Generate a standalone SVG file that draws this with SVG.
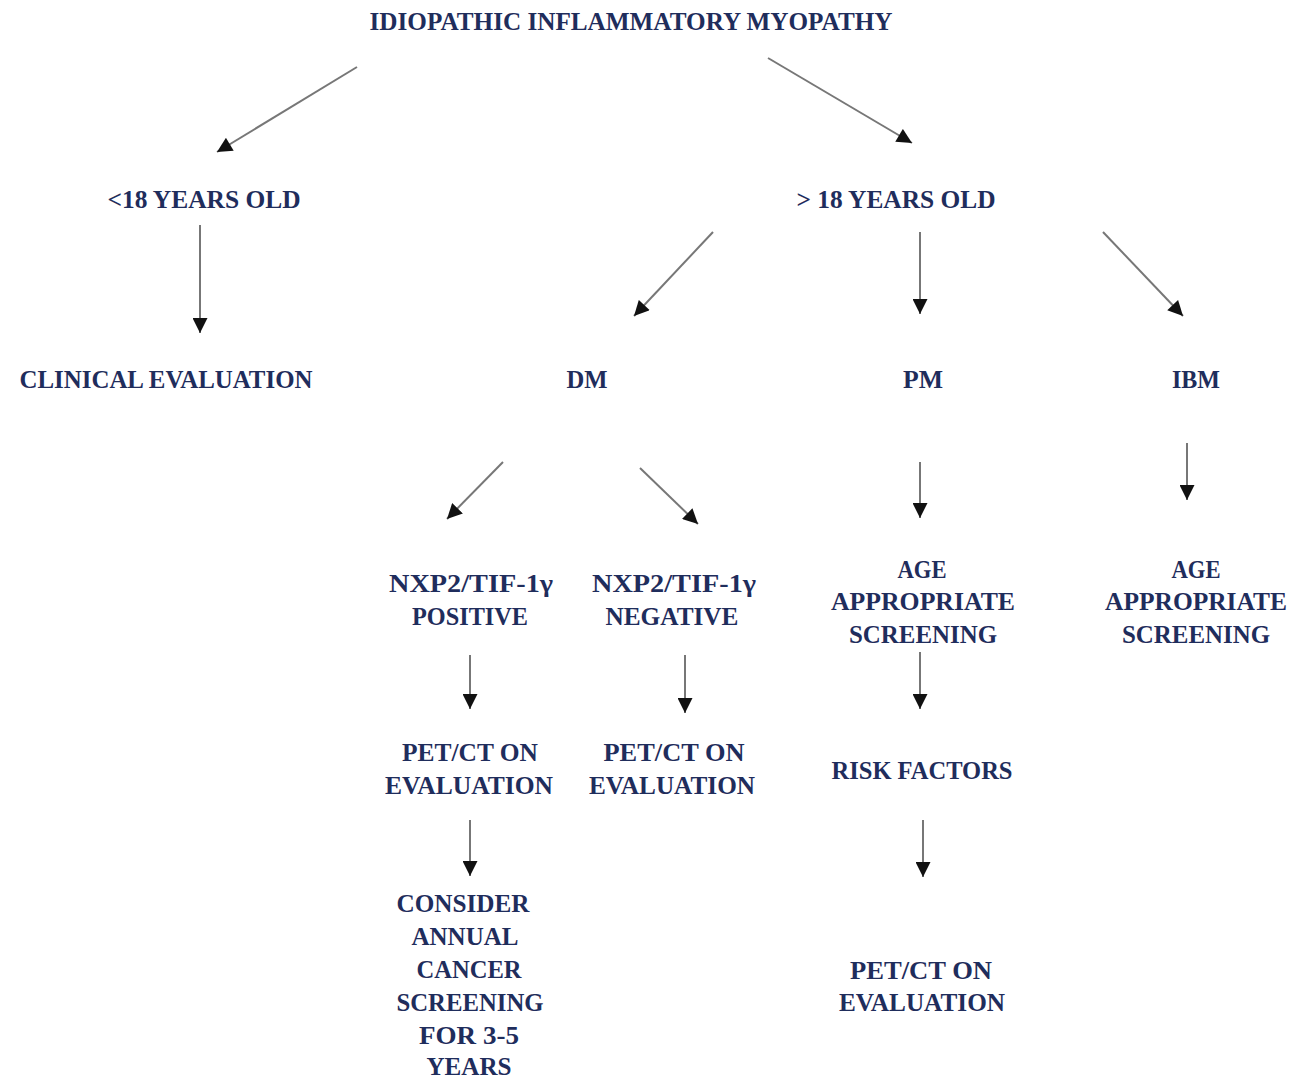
<svg xmlns="http://www.w3.org/2000/svg" width="1289" height="1079" viewBox="0 0 1289 1079">
<defs>
<marker id="ah" viewBox="0 0 10 10" markerUnits="userSpaceOnUse" markerWidth="16" markerHeight="15" refX="10" refY="5" orient="auto">
<path d="M0,0 L10,5 L0,10 z" fill="#111"/>
</marker>
<style>
text{font-family:"Liberation Serif","DejaVu Serif",serif;font-weight:bold;font-size:26px;fill:#1f2d5c;text-anchor:middle}
.c line{stroke:#777;stroke-width:2;marker-end:url(#ah)}
</style>
</defs>
<rect width="1289" height="1079" fill="#fff"/>
<g id="connectors" class="c">
<line x1="357" y1="67" x2="217" y2="152"/>
<line x1="768" y1="58" x2="912" y2="143"/>
<line x1="200" y1="225" x2="200" y2="333"/>
<line x1="713" y1="232" x2="634" y2="316"/>
<line x1="920" y1="232" x2="920" y2="314"/>
<line x1="1103" y1="232" x2="1183" y2="316"/>
<line x1="503" y1="462" x2="447" y2="519"/>
<line x1="640" y1="468" x2="698" y2="524"/>
<line x1="920" y1="462" x2="920" y2="518"/>
<line x1="1187" y1="443" x2="1187" y2="500"/>
<line x1="470" y1="655" x2="470" y2="709"/>
<line x1="685" y1="655" x2="685" y2="713"/>
<line x1="920" y1="652" x2="920" y2="709"/>
<line x1="470" y1="820" x2="470" y2="876"/>
<line x1="923" y1="820" x2="923" y2="877"/>
</g>
<g id="n-iim"><text x="631" y="30" textLength="523" lengthAdjust="spacingAndGlyphs">IDIOPATHIC INFLAMMATORY MYOPATHY</text></g>
<g id="n-lt18"><text x="204" y="208" textLength="193" lengthAdjust="spacingAndGlyphs">&lt;18 YEARS OLD</text></g>
<g id="n-gt18"><text x="896" y="208" textLength="199" lengthAdjust="spacingAndGlyphs">&gt; 18 YEARS OLD</text></g>
<g id="n-clinical"><text x="166" y="388" textLength="293" lengthAdjust="spacingAndGlyphs">CLINICAL EVALUATION</text></g>
<g id="n-dm"><text x="587" y="388" textLength="41" lengthAdjust="spacingAndGlyphs">DM</text></g>
<g id="n-pm"><text x="923" y="388" textLength="40" lengthAdjust="spacingAndGlyphs">PM</text></g>
<g id="n-ibm"><text x="1196" y="388" textLength="48" lengthAdjust="spacingAndGlyphs">IBM</text></g>
<g id="n-pos">
<text x="471" y="592" textLength="164" lengthAdjust="spacingAndGlyphs">NXP2/TIF-1γ</text>
<text x="470" y="625" textLength="116" lengthAdjust="spacingAndGlyphs">POSITIVE</text>
</g>
<g id="n-neg">
<text x="674" y="592" textLength="164" lengthAdjust="spacingAndGlyphs">NXP2/TIF-1γ</text>
<text x="672" y="625" textLength="133" lengthAdjust="spacingAndGlyphs">NEGATIVE</text>
</g>
<g id="n-pm-age">
<text x="922" y="578" textLength="49" lengthAdjust="spacingAndGlyphs">AGE</text>
<text x="923" y="610" textLength="184" lengthAdjust="spacingAndGlyphs">APPROPRIATE</text>
<text x="923" y="643" textLength="148" lengthAdjust="spacingAndGlyphs">SCREENING</text>
</g>
<g id="n-ibm-age">
<text x="1196" y="578" textLength="49" lengthAdjust="spacingAndGlyphs">AGE</text>
<text x="1196" y="610" textLength="182" lengthAdjust="spacingAndGlyphs">APPROPRIATE</text>
<text x="1196" y="643" textLength="148" lengthAdjust="spacingAndGlyphs">SCREENING</text>
</g>
<g id="n-petct-pos">
<text x="470" y="761" textLength="136" lengthAdjust="spacingAndGlyphs">PET/CT ON</text>
<text x="469" y="794" textLength="168" lengthAdjust="spacingAndGlyphs">EVALUATION</text>
</g>
<g id="n-petct-neg">
<text x="674" y="761" textLength="141" lengthAdjust="spacingAndGlyphs">PET/CT ON</text>
<text x="672" y="794" textLength="166" lengthAdjust="spacingAndGlyphs">EVALUATION</text>
</g>
<g id="n-risk"><text x="922" y="779" textLength="181" lengthAdjust="spacingAndGlyphs">RISK FACTORS</text></g>
<g id="n-petct-pm">
<text x="921" y="979" textLength="142" lengthAdjust="spacingAndGlyphs">PET/CT ON</text>
<text x="922" y="1011" textLength="166" lengthAdjust="spacingAndGlyphs">EVALUATION</text>
</g>
<g id="n-consider">
<text x="463" y="912" textLength="133" lengthAdjust="spacingAndGlyphs">CONSIDER</text>
<text x="465" y="945" textLength="107" lengthAdjust="spacingAndGlyphs">ANNUAL</text>
<text x="469" y="978" textLength="105" lengthAdjust="spacingAndGlyphs">CANCER</text>
<text x="470" y="1011" textLength="147" lengthAdjust="spacingAndGlyphs">SCREENING</text>
<text x="469" y="1044" textLength="100" lengthAdjust="spacingAndGlyphs">FOR 3-5</text>
<text x="469" y="1075" textLength="85" lengthAdjust="spacingAndGlyphs">YEARS</text>
</g>
</svg>
